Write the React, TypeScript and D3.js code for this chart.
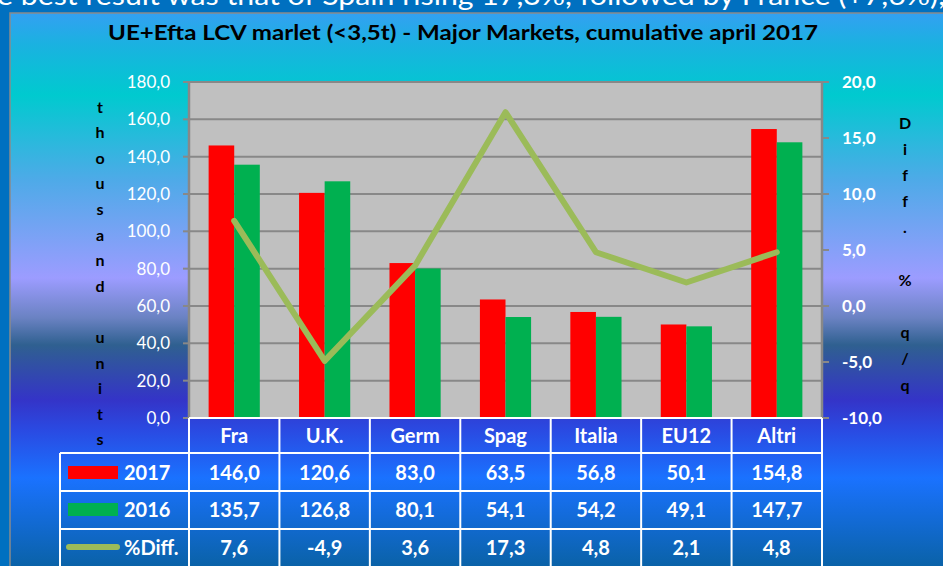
import React from 'react';
import * as d3 from 'd3';

const categories = ['Fra', 'U.K.', 'Germ', 'Spag', 'Italia', 'EU12', 'Altri'];
const units2017 = [146.0, 120.6, 83.0, 63.5, 56.8, 50.1, 154.8];
const units2016 = [135.7, 126.8, 80.1, 54.1, 54.2, 49.1, 147.7];
const diffPct = [7.6, -4.9, 3.6, 17.3, 4.8, 2.1, 4.8];
const leftTicks = [0, 20, 40, 60, 80, 100, 120, 140, 160, 180];
const rightTicks = [-10, -5, 0, 5, 10, 15, 20];

const W = 943;
const H = 566;
const plot = { left: 189, right: 822, top: 82, bottom: 418 };
const rowLines = [453, 491, 529];
const legendLeft = 60;

const fmt = (v: number) => d3.format('.1f')(v).replace('.', ',').replace('\u2212', '-');

const FONT = 'Lato, "Open Sans", sans-serif';

export default function App() {
  const x = d3.scaleBand<string>().domain(categories).range([plot.left, plot.right]);
  const yL = d3.scaleLinear().domain([0, 180]).range([plot.bottom, plot.top]);
  const yR = d3.scaleLinear().domain([-10, 20]).range([plot.bottom, plot.top]);
  const barW = x.bandwidth() * 0.283;

  const line = d3.line<number>()
    .x((_, i) => x(categories[i])! + x.bandwidth() / 2)
    .y(d => yR(d));

  const rowCenters = [473, 510, 548];
  const rows = [units2017, units2016, diffPct];
  const leftTitle = 'thousand units'.split('');
  const rightTitle = 'Diff. % q/q'.split('');

  return (
    <svg width={W} height={H} style={{ position: 'absolute', left: 0, top: 0, display: 'block' }}>
      <defs>
        <linearGradient id="bg" gradientUnits="userSpaceOnUse" x1="0" y1="13" x2="0" y2="566">
          <stop offset="0" stopColor="#33a0f2" />
          <stop offset={(45 - 13) / 553} stopColor="#1ab2e0" />
          <stop offset={(95 - 13) / 553} stopColor="#00cacf" />
          <stop offset={(180 - 13) / 553} stopColor="#4eaae8" />
          <stop offset={(278 - 13) / 553} stopColor="#9c9cff" />
          <stop offset={(318 - 13) / 553} stopColor="#6a82c2" />
          <stop offset={(345 - 13) / 553} stopColor="#2f6090" />
          <stop offset={(400 - 13) / 553} stopColor="#3434c8" />
          <stop offset={(430 - 13) / 553} stopColor="#2a4ae2" />
          <stop offset={(478 - 13) / 553} stopColor="#1a72ff" />
          <stop offset="1" stopColor="#0a62a8" />
        </linearGradient>
      </defs>

      {/* outer frame and the slide caption cut by the top edge */}
      <rect x={0} y={0} width={W} height={H} fill="#0070c0" />
      <text x={-3} y={5} fill="#fff" fontFamily={FONT} fontSize={27} textLength={948} lengthAdjust="spacingAndGlyphs">
        e best result was that of Spain rising 17,3%, followed by France (+7,6%),
      </text>
      <rect x={10} y={13} width={W} height={H} fill="url(#bg)" stroke="#8a8a8a" strokeWidth={1.5} />

      <text x={463} y={40} textAnchor="middle" fontFamily={FONT} fontWeight="bold" fontSize={21} fill="#000"
        textLength={710} lengthAdjust="spacingAndGlyphs">
        UE+Efta LCV marlet (&lt;3,5t) - Major Markets, cumulative april 2017
      </text>

      {/* plot area */}
      <rect x={plot.left} y={plot.top} width={plot.right - plot.left} height={plot.bottom - plot.top} fill="#c0c0c0" />
      {leftTicks.map(t => (
        <g key={'l' + t}>
          <line x1={plot.left} x2={plot.right} y1={yL(t)} y2={yL(t)} stroke="#888" strokeWidth={2} />
          <line x1={plot.left - 6} x2={plot.left} y1={yL(t)} y2={yL(t)} stroke="#888" strokeWidth={2} />
          <text x={170} y={yL(t)} dy="0.35em" textAnchor="end" fill="#fff" fontFamily={FONT} fontSize={17}>{fmt(t)}</text>
        </g>
      ))}
      {rightTicks.map(t => (
        <g key={'r' + t}>
          <line x1={plot.right} x2={plot.right + 7} y1={yR(t)} y2={yR(t)} stroke="#888" strokeWidth={2} />
          <text x={842} y={yR(t)} dy="0.35em" fill="#fff" fontFamily={FONT} fontWeight="bold" fontSize={17}>{fmt(t)}</text>
        </g>
      ))}
      <line x1={plot.left} x2={plot.left} y1={plot.top} y2={plot.bottom} stroke="#888" strokeWidth={2.5} />
      <line x1={plot.right} x2={plot.right} y1={plot.top} y2={plot.bottom} stroke="#888" strokeWidth={2.5} />

      {/* bars */}
      {categories.map((c, i) => {
        const cx = x(c)! + x.bandwidth() / 2;
        return (
          <g key={c}>
            <rect x={cx - barW} y={yL(units2017[i])} width={barW} height={plot.bottom - yL(units2017[i])} fill="#ff0000" />
            <rect x={cx} y={yL(units2016[i])} width={barW} height={plot.bottom - yL(units2016[i])} fill="#00b050" />
          </g>
        );
      })}
      <path d={line(diffPct)!} fill="none" stroke="#9bbb59" strokeWidth={6} strokeLinejoin="round" strokeLinecap="round" />

      {/* axis titles */}
      {leftTitle.map((ch, i) => (
        <text key={'lt' + i} x={100} y={107 + i * 25.6} dy="0.35em" textAnchor="middle" fontFamily={FONT} fontWeight="bold" fontSize={16} fill="#000">{ch}</text>
      ))}
      {rightTitle.map((ch, i) => (
        <text key={'rt' + i} x={905} y={123 + i * 26.2} dy="0.35em" textAnchor="middle" fontFamily={FONT} fontWeight="bold" fontSize={16} fill="#000">{ch}</text>
      ))}

      {/* data table */}
      <g stroke="#fff" strokeWidth={2}>
        <line x1={plot.left} x2={plot.right} y1={plot.bottom} y2={plot.bottom} />
        {rowLines.map(y => <line key={y} x1={legendLeft} x2={plot.right} y1={y} y2={y} />)}
        <line x1={legendLeft} x2={legendLeft} y1={rowLines[0]} y2={H} />
        {categories.map(c => <line key={c} x1={x(c)} x2={x(c)} y1={plot.bottom} y2={H} />)}
        <line x1={plot.right} x2={plot.right} y1={plot.bottom} y2={H} />
      </g>
      {categories.map((c, i) => (
        <g key={'t' + c} fill="#fff" fontFamily={FONT} fontWeight="bold" fontSize={20} textAnchor="middle">
          <text x={x(c)! + x.bandwidth() / 2} y={436} dy="0.35em">{c}</text>
          {rows.map((r, j) => (
            <text key={j} x={x(c)! + x.bandwidth() / 2} y={rowCenters[j]} dy="0.35em">{fmt(r[i])}</text>
          ))}
        </g>
      ))}
      <rect x={68} y={466} width={50} height={13} fill="#ff0000" />
      <rect x={68} y={503} width={50} height={13} fill="#00b050" />
      <line x1={69} x2={117} y1={547} y2={547} stroke="#9bbb59" strokeWidth={6} strokeLinecap="round" />
      <g fill="#fff" fontFamily={FONT} fontWeight="bold" fontSize={20}>
        <text x={124} y={rowCenters[0]} dy="0.35em">2017</text>
        <text x={124} y={rowCenters[1]} dy="0.35em">2016</text>
        <text x={124} y={rowCenters[2]} dy="0.35em">%Diff.</text>
      </g>
    </svg>
  );
}
